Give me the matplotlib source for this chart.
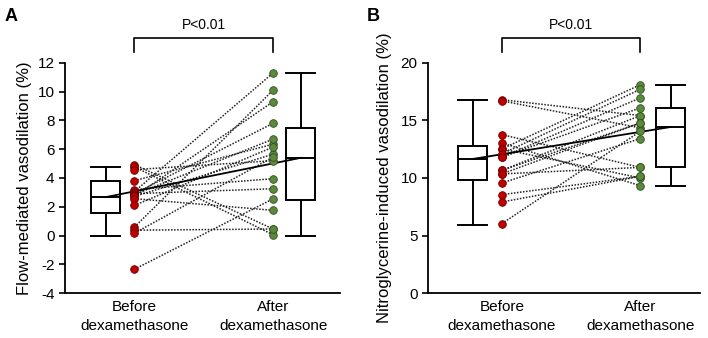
import matplotlib
matplotlib.use("Agg")
import matplotlib.pyplot as plt
import matplotlib.transforms as mtransforms

plt.rcParams['font.family'] = ['Liberation Sans', 'DejaVu Sans']
plt.rcParams['axes.unicode_minus'] = False

categories = ["Before\ndexamethasone", "After\ndexamethasone"]

# Panel A: flow-mediated vasodilation (%) paired values
fmd_before = [4.93, 4.77, 4.58, 3.81, 3.19, 3.05, 2.91, 2.91, 2.84, 2.72, 2.72, 2.56, 2.09, 0.58, 0.37, 0.16, -2.35]
fmd_after = [0.45, 0.05, 5.20, 6.35, 3.95, 11.30, 7.80, 3.25, 6.70, 9.30, 5.65, 1.75, 6.15, 10.10, 0.45, 5.45, 2.55]
fmd_box_before = dict(whislo=0.0, q1=1.56, med=2.67, q3=3.81, whishi=4.74)
fmd_box_after = dict(whislo=0.0, q1=2.47, med=5.40, q3=7.44, whishi=11.30)

# Panel B: nitroglycerine-induced vasodilation (%) paired values
ntg_before = [16.8, 16.7, 13.77, 13.04, 12.52, 12.52, 12.10, 11.80, 11.80, 10.66, 10.66, 10.35, 9.56, 8.55, 7.91, 6.03, 10.35]
ntg_after = [15.42, 14.35, 10.92, 9.33, 18.10, 10.00, 17.70, 16.96, 16.09, 15.42, 14.78, 10.92, 13.42, 10.14, 10.14, 14.05, 14.78]
ntg_box_before = dict(whislo=5.94, q1=9.85, med=11.65, q3=12.80, whishi=16.75)
ntg_box_after = dict(whislo=9.33, q1=10.96, med=14.43, q3=16.09, whishi=18.10)

ylabels = ["Flow-mediated vasodilation (%)", "Nitroglycerine-induced vasodilation (%)"]
p_text = "P<0.01"

RED = "#c00000"
GREEN = "#5b8a3c"

fig = plt.figure(figsize=(7.08, 3.38), dpi=100)
axA = fig.add_axes([0.0918, 0.133, 0.388, 0.681])
axB = fig.add_axes([0.6045, 0.133, 0.384, 0.681])

def draw(ax, before, after, bb, ba, ylim, yticks, ylabel, xlim, box_x):
    pts_x = [1.0, 2.0]
    for b, a in zip(before, after):
        ax.plot(pts_x, [b, a], linestyle=(0, (1, 1.0)), color="#222222", lw=1.1, zorder=2)
    stats = [dict(bb), dict(ba)]
    ax.bxp(stats, positions=box_x, widths=0.21, showfliers=False, patch_artist=True,
           boxprops=dict(facecolor="white", edgecolor="black", linewidth=1.4),
           medianprops=dict(color="black", linewidth=1.4),
           whiskerprops=dict(color="black", linewidth=1.4),
           capprops=dict(color="black", linewidth=1.4), capwidths=0.21, manage_ticks=False)
    ax.plot(box_x, [bb["med"], ba["med"]], color="black", lw=1.3, zorder=4)
    ax.plot([1.0] * len(before), before, 'o', ms=5.5, mfc=RED, mec="#6a0000", mew=0.6, zorder=5)
    ax.plot([2.0] * len(after), after, 'o', ms=5.5, mfc=GREEN, mec="#2f4f20", mew=0.6, zorder=5)
    ax.set_xlim(*xlim)
    ax.set_ylim(*ylim)
    ax.set_yticks(yticks)
    ax.set_xticks(pts_x)
    ax.set_xticklabels(categories, fontsize=11, linespacing=1.5)
    ax.tick_params(axis='x', length=0, pad=5)
    ax.tick_params(axis='y', labelsize=11, length=4, width=1.2, direction='out')
    ax.set_ylabel(ylabel, fontsize=12)
    for s in ["top", "right"]:
        ax.spines[s].set_visible(False)
    for s in ["left", "bottom"]:
        ax.spines[s].set_linewidth(1.3)
    trans = mtransforms.blended_transform_factory(ax.transData, ax.transAxes)
    ax.plot([1.0, 1.0, 2.0, 2.0], [1.048, 1.109, 1.109, 1.048], color="black", lw=1.2,
            transform=trans, clip_on=False)
    ax.text(1.5, 1.135, p_text, transform=trans, ha="center", va="bottom", fontsize=10)

draw(axA, fmd_before, fmd_after, fmd_box_before, fmd_box_after, (-4, 12),
     list(range(-4, 13, 2)), ylabels[0], (0.5, 2.48), [0.795, 2.2])
draw(axB, ntg_before, ntg_after, ntg_box_before, ntg_box_after, (0, 20),
     list(range(0, 21, 5)), ylabels[1], (0.467, 2.43), [0.79, 2.22])
axA.yaxis.labelpad = 4
axB.yaxis.labelpad = 6

fig.text(0.007, 0.975, "A", fontsize=13, fontweight="bold", va="top")
fig.text(0.518, 0.975, "B", fontsize=13, fontweight="bold", va="top")

fig.savefig("out.png", dpi=100)
